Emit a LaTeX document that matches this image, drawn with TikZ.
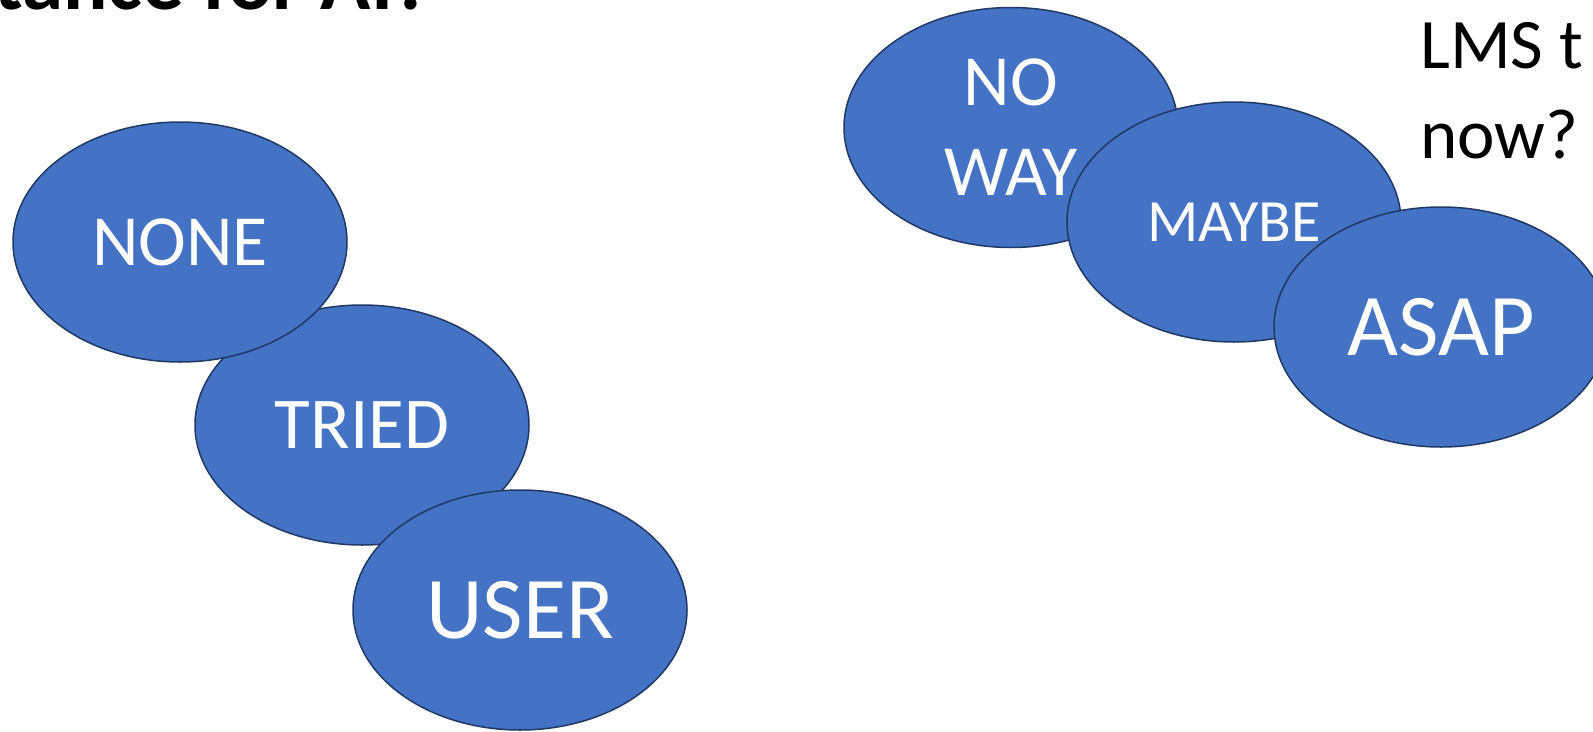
\documentclass[tikz,border=0pt]{standalone}
\usepackage{fontspec}
\setmainfont{Carlito}
\usetikzlibrary{shapes.geometric}
\definecolor{fillc}{HTML}{4472C4}
\definecolor{outl}{HTML}{203864}
\tikzset{
  blob/.style={ellipse, draw=outl, fill=fillc, line width=1.5pt,
    minimum width=334pt, minimum height=240pt, inner sep=0pt, text=white},
  side/.style={inner sep=0pt, text=black, anchor=base west}
}
\begin{document}
\begin{tikzpicture}[x=1pt,y=-1pt]
\useasboundingbox (0,0) rectangle (1593,731);
\clip (0,0) rectangle (1593,731);
\fill[white] (0,0) rectangle (1593,731);
% title fragment (clipped at top)
\node[side, font=\bfseries\fontsize{83}{100}\selectfont] (title) at (-6,9.5) {tance for AI?};
% left group
\node[blob, font=\fontsize{73}{88}\selectfont] (tried) at (362,425) {TRIED};
\node[blob, font=\fontsize{72}{86}\selectfont] (none) at (180,242) {NONE};
\node[blob, font=\fontsize{88}{106}\selectfont] (user) at (520,610) {USER};
% right group
\node[blob, align=center, font=\fontsize{72}{90}\selectfont] (noway) at (1011,127.5) {NO\\WAY};
\node[blob, font=\fontsize{60}{72}\selectfont] (maybe) at (1234,222) {MAYBE};
\node[blob, font=\fontsize{88}{106}\selectfont] (asap) at (1441,327) {ASAP};
% side text (clipped at right)
\node[side, font=\fontsize{71}{90}\selectfont] (lms) at (1420,68.5) {LMS t};
\node[side, font=\fontsize{71}{90}\selectfont] (now) at (1420,158) {now?};
\end{tikzpicture}
\end{document}
